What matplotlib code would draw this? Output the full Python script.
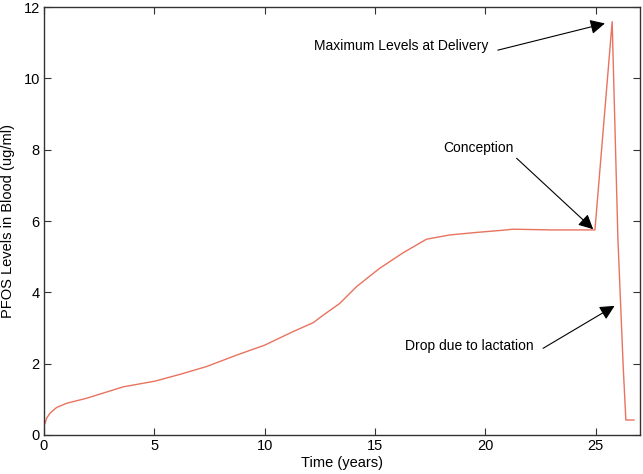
import matplotlib
matplotlib.use("Agg")
import matplotlib.pyplot as plt

# PFOS blood level over a lifetime
time_years = [0.0, 0.0, 0.05, 0.12, 0.27, 0.57, 1.03, 1.93, 3.59, 5.03, 6.16,
              7.37, 8.73, 10.0, 11.29, 12.2, 12.65, 13.4, 14.16, 15.2, 16.27,
              17.33, 18.39, 19.6, 20.58, 21.25, 23.0, 24.96,
              25.74, 26.0, 26.24, 26.36, 26.73]
pfos_ugml = [0.0, 0.28, 0.33, 0.47, 0.61, 0.77, 0.89, 1.03, 1.35, 1.51, 1.70,
             1.92, 2.24, 2.52, 2.90, 3.15, 3.36, 3.69, 4.16, 4.67, 5.11,
             5.49, 5.61, 5.68, 5.73, 5.77, 5.75, 5.75,
             11.59, 5.5, 1.92, 0.42, 0.42]

notes = ["Maximum Levels at Delivery", "Conception", "Drop due to lactation"]
note_text_xy = [(16.2, 10.9), (19.66, 8.05), (19.29, 2.5)]
note_tail_xy = [(20.56, 10.79), (21.41, 7.76), (22.61, 2.43)]
note_tip_xy = [(25.41, 11.54), (24.88, 5.77), (25.85, 3.62)]

plt.rcParams["font.family"] = ["Liberation Sans", "DejaVu Sans"]

fig = plt.figure(figsize=(6.43, 4.74), dpi=100)
ax = fig.add_axes([0.0684, 0.0823, 0.9269, 0.9029])

ax.plot(time_years, pfos_ugml, color="#e8735f", lw=1.0)

for txt, pos, tail, tip in zip(notes, note_text_xy, note_tail_xy, note_tip_xy):
    ax.text(pos[0], pos[1], txt, ha="center", va="center", fontsize=10)
    ax.annotate("", xy=tip, xytext=tail,
                arrowprops=dict(arrowstyle="-|>", color="black", lw=0.8,
                                mutation_scale=22, shrinkA=0, shrinkB=0))

ax.set_xlim(0, 27)
ax.set_ylim(0, 12)
ax.set_xticks([0, 5, 10, 15, 20, 25])
ax.set_yticks([0, 2, 4, 6, 8, 10, 12])
ax.tick_params(direction="in", length=5, top=True, right=True,
               labelsize=10.5, color="#333333", pad=3)
for sp in ax.spines.values():
    sp.set_color("#333333")
    sp.set_linewidth(1.0)

ax.set_xlabel("Time (years)", fontsize=10.5, labelpad=2)
ax.set_ylabel("PFOS Levels in Blood (ug/ml)", fontsize=10.5, labelpad=6)

fig.savefig("out.png", dpi=100)
